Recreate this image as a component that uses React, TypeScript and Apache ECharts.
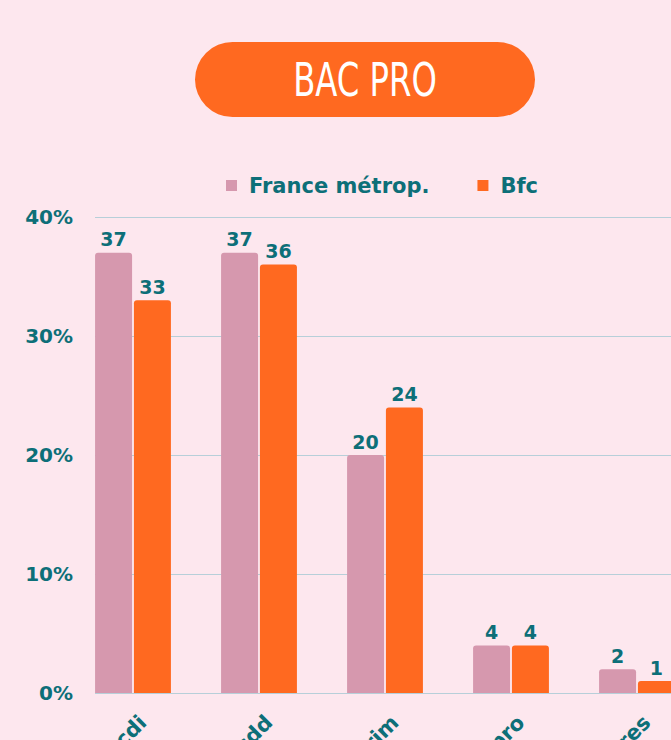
import React, { useEffect, useRef } from "react";
import * as echarts from "echarts";

const categories = ["cdi", "cdd", "intérim", "contrat pro", "autres"];
const seriesNames = ["France métrop.", "Bfc"];
const franceValues = [37, 37, 20, 4, 2];
const bfcValues = [33, 36, 24, 4, 1];
const yTicks = [0, 10, 20, 30, 40];
const titleText = "BAC PRO";

const BG = "#fde7ee";
const PINK = "#d698ae";
const ORANGE = "#ff6920";
const TEAL = "#0d6f78";
const GRID = "#b7cfd9";
const FONT = "'DejaVu Sans', 'Noto Sans', sans-serif";

export default function App() {
  const ref = useRef<HTMLDivElement>(null);
  useEffect(() => {
    document.body.style.margin = "0";
    document.body.style.overflow = "hidden";
    document.body.style.background = BG;
    const chart = echarts.init(ref.current!, null, { renderer: "svg" });
    const labelStyle = {
      show: true,
      position: "top",
      distance: 4,
      color: TEAL,
      fontFamily: FONT,
      fontWeight: "bold",
      fontSize: 19,
    };
    chart.setOption({
      animation: false,
      backgroundColor: BG,
      graphic: [
        {
          type: "rect",
          shape: { x: 195, y: 42, width: 340, height: 75, r: 37.5 },
          style: { fill: ORANGE },
        },
        {
          type: "group",
          x: 365,
          y: 80,
          scaleX: 0.78,
          children: [
            {
              type: "text",
              x: 0,
              y: 0,
              style: {
                text: titleText,
                fill: "#ffffff",
                fontFamily: "'Liberation Sans Narrow', 'DejaVu Sans Condensed', 'DejaVu Sans', sans-serif",
                fontSize: 46,
                align: "center",
                verticalAlign: "middle",
              },
            },
          ],
        },
      ],
      legend: {
        data: seriesNames,
        left: 221,
        top: 170,
        itemWidth: 11,
        itemHeight: 11,
        itemGap: 48,
        icon: "rect",
        textStyle: {
          color: TEAL,
          fontFamily: FONT,
          fontWeight: "bold",
          fontSize: 21,
          padding: [0, 0, 0, 7],
        },
      },
      grid: [
        { left: 70, right: -29, top: 217, bottom: 47, outerBoundsMode: "none", containLabel: false },
        { left: 95, right: -29, top: 217, bottom: 47, outerBoundsMode: "none", containLabel: false },
        { left: 80, right: -39, top: 217, bottom: 47, outerBoundsMode: "none", containLabel: false },
      ],
      xAxis: [
        {
          type: "category",
          gridIndex: 0,
          data: categories,
          axisLine: { show: false },
          axisTick: { show: false },
          axisLabel: { show: false },
        },
        {
          type: "category",
          gridIndex: 1,
          data: categories,
          show: false,
        },
        {
          type: "category",
          gridIndex: 2,
          data: categories,
          axisLine: { show: false },
          axisTick: { show: false },
          splitLine: { show: false },
          axisLabel: {
            rotate: 45,
            margin: 26,
            color: TEAL,
            fontFamily: FONT,
            fontWeight: "bold",
            fontSize: 21,
            interval: 0,
          },
        },
      ],
      yAxis: [
        {
          type: "value",
          gridIndex: 0,
          min: 0,
          max: 40,
          interval: 10,
          show: false,
          splitLine: { show: false },
        },
        {
          type: "value",
          gridIndex: 1,
          min: yTicks[0],
          max: yTicks[yTicks.length - 1],
          interval: 10,
          axisLine: { show: false },
          axisTick: { show: false },
          splitLine: { show: true, lineStyle: { color: GRID, width: 1 } },
          axisLabel: {
            margin: 22,
            formatter: "{value}%",
            color: TEAL,
            fontFamily: FONT,
            fontWeight: "bold",
            fontSize: 20,
          },
        },
        {
          type: "value",
          gridIndex: 2,
          min: 0,
          max: 40,
          interval: 10,
          show: false,
          splitLine: { show: false },
        },
      ],
      series: [
        {
          name: seriesNames[0],
          type: "bar",
          xAxisIndex: 0,
          yAxisIndex: 0,
          data: franceValues,
          barWidth: 37,
          barGap: "5%",
          itemStyle: { color: PINK, borderRadius: [3, 3, 0, 0] },
          label: labelStyle,
        },
        {
          name: seriesNames[1],
          type: "bar",
          xAxisIndex: 0,
          yAxisIndex: 0,
          data: bfcValues,
          barWidth: 37,
          barGap: "5%",
          itemStyle: { color: ORANGE, borderRadius: [3, 3, 0, 0] },
          label: labelStyle,
        },
      ],
    });
    return () => chart.dispose();
  }, []);
  return <div ref={ref} style={{ width: 671, height: 740 }} />;
}
